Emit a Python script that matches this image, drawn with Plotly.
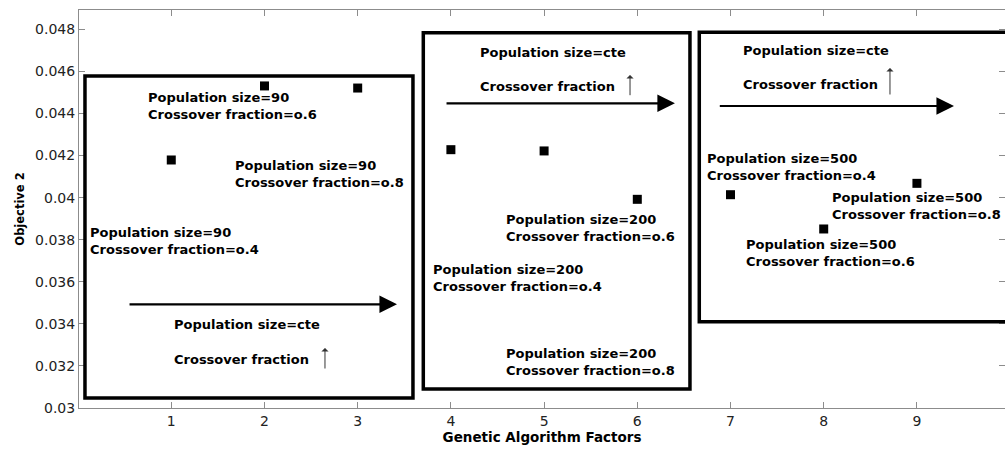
import plotly.graph_objects as go

# ---- data ----
factors = [1, 2, 3, 4, 5, 6, 7, 8, 9]
objective2 = [0.04179, 0.04531, 0.04521, 0.04228, 0.04222, 0.03992, 0.04014, 0.03851, 0.04068]

x_tick_vals = [1, 2, 3, 4, 5, 6, 7, 8, 9]
x_tick_text = ["1", "2", "3", "4", "5", "6", "7", "8", "9"]
y_tick_vals = [0.03, 0.032, 0.034, 0.036, 0.038, 0.04, 0.042, 0.044, 0.046, 0.048]
y_tick_text = ["0.03", "0.032", "0.034", "0.036", "0.038", "0.04", "0.042", "0.044", "0.046", "0.048"]

# group boxes: (x0, x1, y0, y1)
boxes = [
    (0.074, 3.593, 0.030475, 0.045783),
    (3.704, 6.565, 0.030903, 0.047841),
    (6.665, 10.3, 0.034103, 0.047860),
]

# text labels: (x, y, text)
labels = [
    (0.736, 0.044357, "Population size=90<br>Crossover fraction=o.6"),
    (1.676, 0.041124, "Population size=90<br>Crossover fraction=o.8"),
    (0.120, 0.037939, "Population size=90<br>Crossover fraction=o.4"),
    (1.021, 0.033946, "Population size=cte"),
    (1.021, 0.032329, "Crossover fraction"),
    (4.305, 0.046890, "Population size=cte"),
    (4.305, 0.045307, "Crossover fraction"),
    (4.580, 0.038542, "Population size=200<br>Crossover fraction=o.6"),
    (3.794, 0.036194, "Population size=200<br>Crossover fraction=o.4"),
    (4.580, 0.032201, "Population size=200<br>Crossover fraction=o.8"),
    (7.120, 0.046985, "Population size=cte"),
    (7.120, 0.045388, "Crossover fraction"),
    (6.734, 0.041471, "Population size=500<br>Crossover fraction=o.4"),
    (8.078, 0.039588, "Population size=500<br>Crossover fraction=o.8"),
    (7.156, 0.037383, "Population size=500<br>Crossover fraction=o.6"),
]

# big horizontal arrows: (x_tail, x_head, y)
h_arrows = [
    (0.536, 3.422, 0.034930),
    (3.937, 6.404, 0.044485),
    (6.869, 9.398, 0.044356),
]
# small up arrows: (x, y_tail, y_head)
v_arrows = [
    (2.649, 0.031806, 0.032852),
    (5.922, 0.044799, 0.045830),
    (8.711, 0.044832, 0.046163),
]

LABEL_FONT = "DejaVu Sans, Verdana, sans-serif"
TICK_FONT = "DejaVu Sans, Arial, sans-serif"

fig = go.Figure()
fig.add_trace(go.Scatter(
    x=factors, y=objective2, mode="markers",
    marker=dict(symbol="square", size=9, color="black"),
    showlegend=False, cliponaxis=False,
))

shapes = []
for (x0, x1, y0, y1) in boxes:
    shapes.append(dict(type="rect", xref="x", yref="y", x0=x0, x1=x1, y0=y0, y1=y1,
                       line=dict(color="black", width=3.5), fillcolor="rgba(0,0,0,0)", layer="above"))

annotations = []
lab_font = dict(family=LABEL_FONT, size=13, color="black")
for (x, y, t) in labels:
    annotations.append(dict(x=x, y=y, xref="x", yref="y", text="<b>" + t.replace("<br>", "</b><br><b>") + "</b>",
                            showarrow=False, xanchor="left", yanchor="middle", align="left",
                            font=lab_font, borderpad=0))
for (xt, xh, y) in h_arrows:
    annotations.append(dict(x=xh, y=y, ax=xt, ay=y, xref="x", yref="y", axref="x", ayref="y",
                            text="", showarrow=True, arrowhead=2, arrowsize=1.6, arrowwidth=2.2,
                            arrowcolor="black", standoff=0, startstandoff=0))
for (x, yt, yh) in v_arrows:
    annotations.append(dict(x=x, y=yh, ax=x, ay=yt, xref="x", yref="y", axref="x", ayref="y",
                            text="", showarrow=True, arrowhead=1, arrowsize=1.2, arrowwidth=1,
                            arrowcolor="#333333", standoff=0, startstandoff=0))

axis_common = dict(showgrid=False, zeroline=False, showline=True, linecolor="#8c8c8c", linewidth=1,
                   mirror="ticks", ticks="inside", ticklen=6, tickcolor="#8c8c8c",
                   tickfont=dict(family=TICK_FONT, size=14, color="#222222"))

fig.update_layout(
    width=1005, height=449,
    margin=dict(l=79, r=0, t=10, b=41),
    paper_bgcolor="white", plot_bgcolor="white",
    shapes=shapes, annotations=annotations,
    xaxis=dict(range=[0.01, 9.945], tickmode="array", tickvals=x_tick_vals, ticktext=x_tick_text,
               title=dict(text="<b>Genetic Algorithm Factors</b>", standoff=2,
                          font=dict(family=LABEL_FONT, size=13.5, color="black")),
               **axis_common),
    yaxis=dict(range=[0.03, 0.04892], tickmode="array", tickvals=y_tick_vals, ticktext=y_tick_text,
               title=dict(text="<b>Objective 2</b>", standoff=8,
                          font=dict(family=LABEL_FONT, size=11.5, color="black")),
               **axis_common),
)

# remove the default page margin so the figure fills the 1005x449 window exactly
fig.write_html("out.html",
               config={"displayModeBar": False},
               post_script="document.body.style.margin='0';document.documentElement.style.overflow='hidden';")
